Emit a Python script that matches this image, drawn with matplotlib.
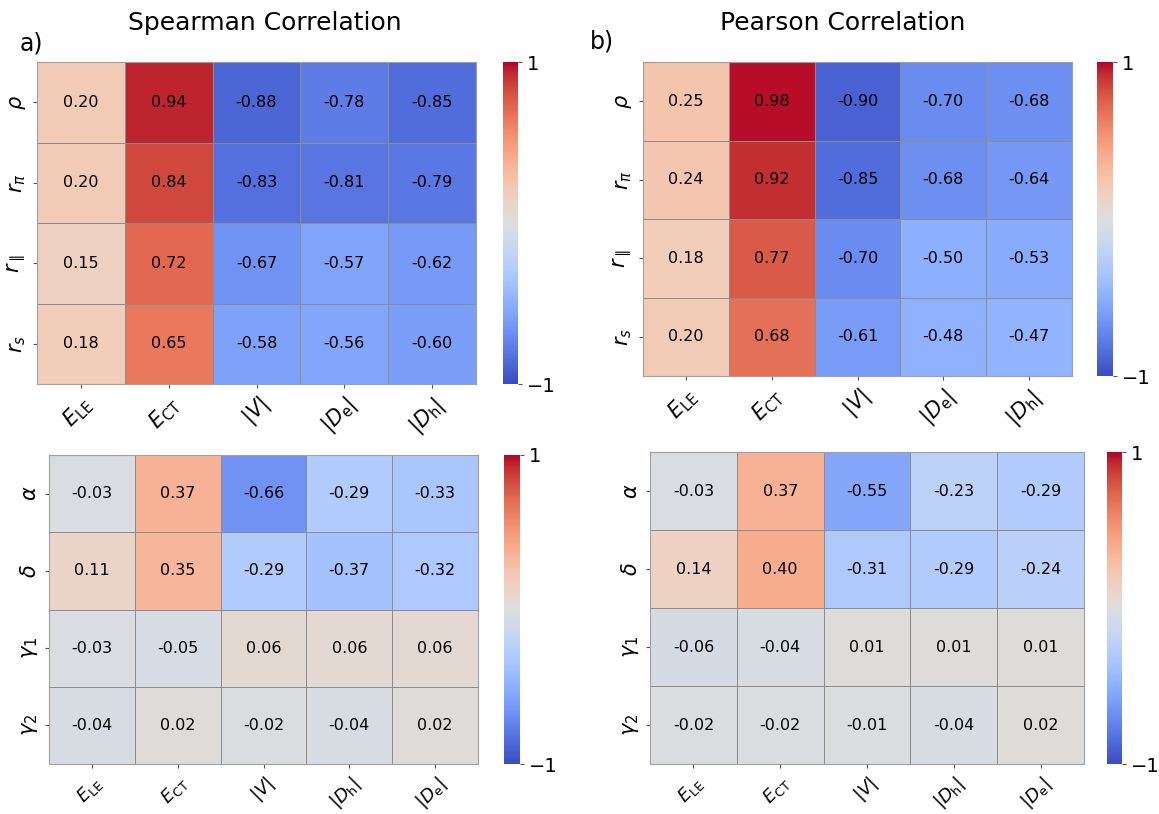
import matplotlib
matplotlib.use("Agg")
import matplotlib.pyplot as plt
import numpy as np
import seaborn as sns

# row / column labels
rows_top = [r"$\rho$", r"$r_{\pi}$", r"$r_{\parallel}$", r"$r_{s}$"]
rows_bot = [r"$\alpha$", r"$\delta$", r"$\gamma_{1}$", r"$\gamma_{2}$"]
cols_top = [r"$E_{\mathrm{LE}}$", r"$E_{\mathrm{CT}}$", r"$|V|$",
            r"$|D_{\mathrm{e}}|$", r"$|D_{\mathrm{h}}|$"]
cols_bot = [r"$E_{\mathrm{LE}}$", r"$E_{\mathrm{CT}}$", r"$|V|$",
            r"$|D_{\mathrm{h}}|$", r"$|D_{\mathrm{e}}|$"]

spearman_top = [[0.20, 0.94, -0.88, -0.78, -0.85],
                [0.20, 0.84, -0.83, -0.81, -0.79],
                [0.15, 0.72, -0.67, -0.57, -0.62],
                [0.18, 0.65, -0.58, -0.56, -0.60]]
pearson_top = [[0.25, 0.98, -0.90, -0.70, -0.68],
               [0.24, 0.92, -0.85, -0.68, -0.64],
               [0.18, 0.77, -0.70, -0.50, -0.53],
               [0.20, 0.68, -0.61, -0.48, -0.47]]
spearman_bot = [[-0.03, 0.37, -0.66, -0.29, -0.33],
                [0.11, 0.35, -0.29, -0.37, -0.32],
                [-0.03, -0.05, 0.06, 0.06, 0.06],
                [-0.04, 0.02, -0.02, -0.04, 0.02]]
pearson_bot = [[-0.03, 0.37, -0.55, -0.23, -0.29],
               [0.14, 0.40, -0.31, -0.29, -0.24],
               [-0.06, -0.04, 0.01, 0.01, 0.01],
               [-0.02, -0.02, -0.01, -0.04, 0.02]]

W, H = 1159, 814
fig = plt.figure(figsize=(W / 100, H / 100), dpi=100)


def px_axes(x0, y0, x1, y1):
    # pixel box (top-left origin) -> figure axes
    return fig.add_axes([x0 / W, 1 - y1 / H, (x1 - x0) / W, (y1 - y0) / H])


def panel(data, rows, cols, box, cbox, xsize=15):
    ax = px_axes(*box)
    cax = px_axes(*cbox)
    sns.heatmap(np.array(data), ax=ax, cbar_ax=cax, cmap="coolwarm",
                vmin=-1, vmax=1, annot=True, fmt=".2f",
                annot_kws={"size": 11.5, "color": "black"},
                linewidths=0.6, linecolor="#8c8c8c",
                xticklabels=cols, yticklabels=rows)
    ax.tick_params(axis="x", labelsize=xsize, rotation=45, length=3, color="#555555")
    ax.tick_params(axis="y", labelsize=15, rotation=90, length=3, color="#555555")
    for lab in ax.get_xticklabels():
        lab.set_ha("right")
        lab.set_rotation_mode("anchor")
    for lab in ax.get_yticklabels():
        lab.set_va("center")
    for sp in ax.spines.values():
        sp.set_visible(True)
        sp.set_color("#a0a0a0")
        sp.set_linewidth(0.8)
    cax.set_yticks([-1, 1])
    cax.set_yticklabels(["\u22121", "1"])
    cax.tick_params(labelsize=14, length=3, color="#555555")
    return ax


panel(spearman_top, rows_top, cols_top, (37, 62, 476, 384), (503, 62, 518, 384))
panel(pearson_top, rows_top, cols_top, (643, 62, 1072, 376), (1097, 62, 1113, 376))
panel(spearman_bot, rows_bot, cols_bot, (49, 455, 478, 764), (504, 455, 520, 764), xsize=13)
panel(pearson_bot, rows_bot, cols_bot, (650, 452, 1084, 764), (1107, 452, 1122, 764), xsize=13)

fig.text(265 / W, 1 - 23 / H, "Spearman Correlation", ha="center", va="center", fontsize=18)
fig.text(843 / W, 1 - 23 / H, "Pearson Correlation", ha="center", va="center", fontsize=18)
fig.text(20 / W, 1 - 44 / H, "a)", ha="left", va="center", fontsize=17)
fig.text(590 / W, 1 - 42 / H, "b)", ha="left", va="center", fontsize=17)

fig.savefig("out.png", dpi=100)
